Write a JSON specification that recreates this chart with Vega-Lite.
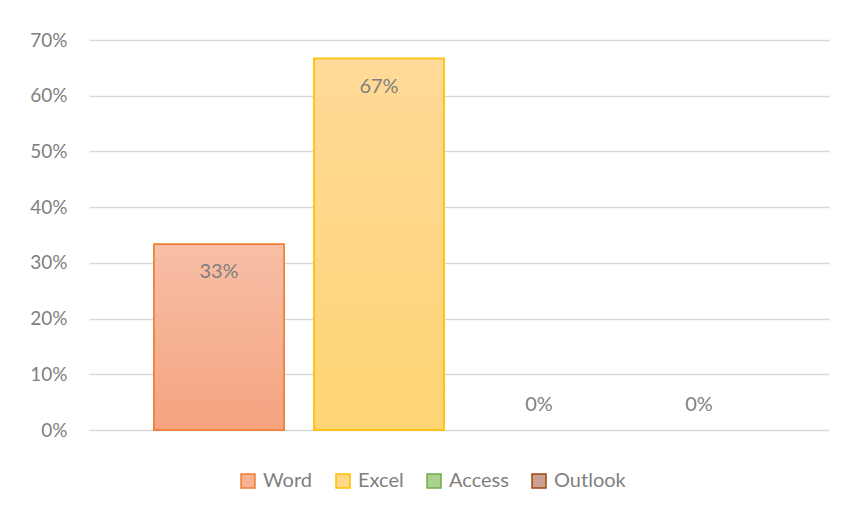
{
  "$schema": "https://vega.github.io/schema/vega-lite/v6.json",
  "width": 740,
  "height": 390,
  "autosize": {"type": "none"},
  "padding": {"left": 89, "top": 40, "right": 15, "bottom": 83},
  "background": "white",
  "config": {
    "view": {"stroke": null},
    "font": "Lato",
    "axis": {"labelFont": "Lato", "labelColor": "#7F7F7F"}
  },
  "data": {
    "values": [
      {"series": "Word", "value": 0.3333},
      {"series": "Excel", "value": 0.6667},
      {"series": "Access", "value": 0},
      {"series": "Outlook", "value": 0}
    ]
  },
  "encoding": {
    "x": {
      "field": "series",
      "type": "nominal",
      "sort": ["Word", "Excel", "Access", "Outlook"],
      "scale": {"domain": ["Word", "Excel", "Access", "Outlook"], "paddingInner": 0.1875, "paddingOuter": 0.40625},
      "axis": null
    },
    "y": {
      "field": "value",
      "type": "quantitative",
      "scale": {"domain": [0, 0.7]},
      "axis": {
        "format": ".0%",
        "values": [0, 0.1, 0.2, 0.3, 0.4, 0.5, 0.6, 0.7],
        "title": null,
        "domain": false,
        "ticks": false,
        "labelFontSize": 19,
        "labelPadding": 22,
        "gridColor": "#D9D9D9",
        "gridWidth": 1.5
      }
    }
  },
  "layer": [
    {
      "transform": [{"filter": "datum.value > 0"}],
      "mark": {"type": "bar", "strokeWidth": 1.5},
      "encoding": {
        "fill": {
          "field": "series",
          "type": "nominal",
          "sort": ["Word", "Excel", "Access", "Outlook"],
          "scale": {
            "domain": ["Word", "Excel", "Access", "Outlook"],
            "range": ["#F6B194", "#FFD785", "#ABD191", "#CBA093"]
          },
          "legend": {
            "title": null,
            "orient": "none",
            "direction": "horizontal",
            "legendX": 149,
            "legendY": 431,
            "symbolType": "square",
            "symbolSize": 196,
            "symbolStrokeWidth": 1.5,
            "labelFontSize": 20,
            "labelColor": "#7F7F7F",
            "labelFont": "Lato",
            "labelOffset": 5,
            "columnPadding": 20
          }
        },
        "stroke": {
          "field": "series",
          "type": "nominal",
          "sort": ["Word", "Excel", "Access", "Outlook"],
          "scale": {
            "domain": ["Word", "Excel", "Access", "Outlook"],
            "range": ["#ED7D31", "#FFC000", "#70AD47", "#9E480E"]
          }
        }
      }
    },
    {
      "transform": [{"filter": "datum.series == 'Word'"}],
      "mark": {
        "type": "bar",
        "strokeWidth": 1.5,
        "stroke": "#ED7D31",
        "fill": {"gradient": "linear", "x1": 0, "y1": 0, "x2": 0, "y2": 1, "stops": [{"offset": 0, "color": "#F7BFA7"}, {"offset": 1, "color": "#F5A37F"}]}
      }
    },
    {
      "transform": [{"filter": "datum.series == 'Excel'"}],
      "mark": {
        "type": "bar",
        "strokeWidth": 1.5,
        "stroke": "#FFC000",
        "fill": {"gradient": "linear", "x1": 0, "y1": 0, "x2": 0, "y2": 1, "stops": [{"offset": 0, "color": "#FFDA98"}, {"offset": 1, "color": "#FFD474"}]}
      }
    },
    {
      "transform": [{"filter": "datum.value > 0"}],
      "mark": {"type": "text", "dy": 28, "fontSize": 20, "color": "#7F7F7F", "baseline": "middle", "font": "Lato"},
      "encoding": {"text": {"field": "value", "type": "quantitative", "format": ".0%"}}
    },
    {
      "transform": [{"filter": "datum.value == 0"}],
      "mark": {"type": "text", "dy": -25, "fontSize": 20, "color": "#7F7F7F", "baseline": "middle", "font": "Lato"},
      "encoding": {"text": {"field": "value", "type": "quantitative", "format": ".0%"}}
    }
  ]
}
